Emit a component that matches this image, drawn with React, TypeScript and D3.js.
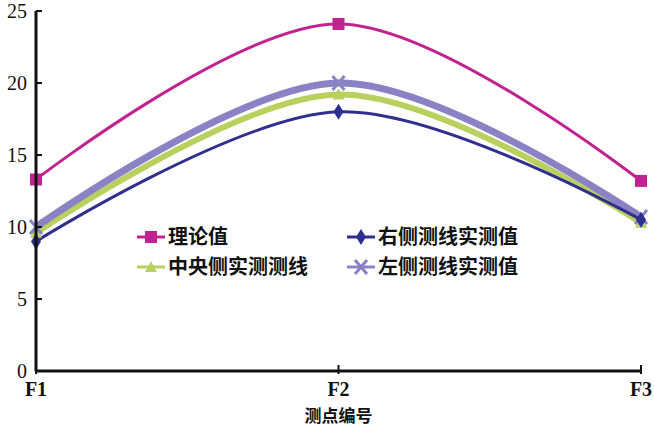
import { useEffect, useRef } from "react";
import * as d3 from "d3";

const categories = ["F1", "F2", "F3"];
const yTicks = [0, 5, 10, 15, 20, 25];
const theory = [13.3, 24.1, 13.2];
const rightSide = [9.0, 18.0, 10.5];
const center = [9.6, 19.2, 10.3];
const leftSide = [10.0, 20.0, 10.7];
const seriesNames = ["理论值", "右侧测线实测值", "中央侧实测测线", "左侧测线实测值"];
const xTitle = "测点编号";

type Series = { name: string; values: number[]; color: string; width: number; marker: string };

export default function App() {
  const svgRef = useRef<SVGSVGElement | null>(null);

  useEffect(() => {
    if (!svgRef.current) return;
    const width = 654;
    const height = 428;
    const margin = { top: 11, right: 13, bottom: 57, left: 36 };
    const w = width - margin.left - margin.right;
    const h = height - margin.top - margin.bottom;

    const svg = d3.select(svgRef.current);
    svg.selectAll("*").remove();
    svg.attr("width", width).attr("height", height);
    svg.append("rect").attr("width", width).attr("height", height).attr("fill", "#fff");

    const g = svg.append("g").attr("transform", `translate(${margin.left},${margin.top})`);

    const x = d3.scalePoint<string>().domain(categories).range([0, w]);
    const y = d3.scaleLinear().domain([0, 25]).range([h, 0]);

    const series: Series[] = [
      { name: seriesNames[0], values: theory, color: "#C2228F", width: 3, marker: "square" },
      { name: seriesNames[2], values: center, color: "#B8D05E", width: 6, marker: "tri" },
      { name: seriesNames[3], values: leftSide, color: "#8A82C4", width: 7, marker: "x" },
      { name: seriesNames[1], values: rightSide, color: "#2E2F8E", width: 3, marker: "diamond" },
    ];

    const line = d3
      .line<number>()
      .x((_, i) => x(categories[i])!)
      .y(d => y(d))
      .curve(d3.curveCardinal.tension(0));

    const drawMarker = (sel: d3.Selection<SVGGElement, unknown, null, undefined>, s: Series, cx: number, cy: number) => {
      if (s.marker === "square") {
        sel.append("rect").attr("x", cx - 6).attr("y", cy - 6).attr("width", 12).attr("height", 12).attr("fill", s.color);
      } else if (s.marker === "diamond") {
        sel.append("path").attr("d", `M${cx},${cy - 8}L${cx + 5},${cy}L${cx},${cy + 8}L${cx - 5},${cy}Z`).attr("fill", s.color);
      } else if (s.marker === "tri") {
        sel.append("path").attr("d", `M${cx},${cy - 6}L${cx + 6},${cy + 5}L${cx - 6},${cy + 5}Z`).attr("fill", s.color);
      } else {
        sel.append("path")
          .attr("d", `M${cx - 6},${cy - 7}L${cx + 6},${cy + 7}M${cx + 6},${cy - 7}L${cx - 6},${cy + 7}`)
          .attr("stroke", s.color).attr("stroke-width", 3);
      }
    };

    series.forEach(s => {
      g.append("path")
        .datum(s.values)
        .attr("d", line)
        .attr("fill", "none")
        .attr("stroke", s.color)
        .attr("stroke-width", s.width);
    });
    series.forEach(s => {
      const mg = g.append("g");
      s.values.forEach((v, i) => drawMarker(mg, s, x(categories[i])!, y(v)));
    });

    // axes
    const axisColor = "#111";
    g.append("line").attr("x1", 0).attr("x2", 0).attr("y1", 0).attr("y2", h)
      .attr("stroke", axisColor).attr("stroke-width", 3);
    g.append("line").attr("x1", 0).attr("x2", w).attr("y1", h).attr("y2", h)
      .attr("stroke", axisColor).attr("stroke-width", 3);

    yTicks.forEach(t => {
      g.append("line").attr("x1", 0).attr("x2", 6).attr("y1", y(t)).attr("y2", y(t))
        .attr("stroke", axisColor).attr("stroke-width", 2);
      g.append("text")
        .attr("x", -9).attr("y", y(t)).attr("dy", "0.35em")
        .attr("text-anchor", "end")
        .attr("font-family", "Liberation Serif, serif")
        .attr("font-size", 20)
        .attr("fill", "#111")
        .text(t);
    });

    categories.forEach(c => {
      g.append("line").attr("x1", x(c)!).attr("x2", x(c)!).attr("y1", h - 6).attr("y2", h + 3)
        .attr("stroke", axisColor).attr("stroke-width", 2);
      g.append("text")
        .attr("x", x(c)!).attr("y", h + 25)
        .attr("text-anchor", "middle")
        .attr("font-family", "Liberation Serif, serif")
        .attr("font-weight", 700)
        .attr("font-size", 20)
        .attr("fill", "#111")
        .text(c);
    });

    svg.append("text")
      .attr("x", margin.left + w / 2)
      .attr("y", height - 6)
      .attr("text-anchor", "middle")
      .attr("font-family", "Noto Sans CJK SC")
      .attr("font-weight", 700)
      .attr("font-size", 17)
      .attr("fill", "#111")
      .text(xTitle);

    // legend
    const legendItems = [
      { s: series[0], lx: 137, ly: 237 },
      { s: series[3], lx: 347, ly: 237 },
      { s: series[1], lx: 137, ly: 267 },
      { s: series[2], lx: 347, ly: 267 },
    ];
    const lg = svg.append("g");
    legendItems.forEach(({ s, lx, ly }) => {
      lg.append("line").attr("x1", lx).attr("x2", lx + 28).attr("y1", ly).attr("y2", ly)
        .attr("stroke", s.color).attr("stroke-width", 3);
      drawMarker(lg, s, lx + 14, ly);
      lg.append("text")
        .attr("x", lx + 31).attr("y", ly).attr("dy", "0.36em")
        .attr("font-family", "Noto Sans CJK SC")
        .attr("font-weight", 700)
        .attr("font-size", 20)
        .attr("fill", "#111")
        .text(s.name);
    });
  }, []);

  return <svg ref={svgRef} style={{ position: "absolute", left: 0, top: 0 }} />;
}
